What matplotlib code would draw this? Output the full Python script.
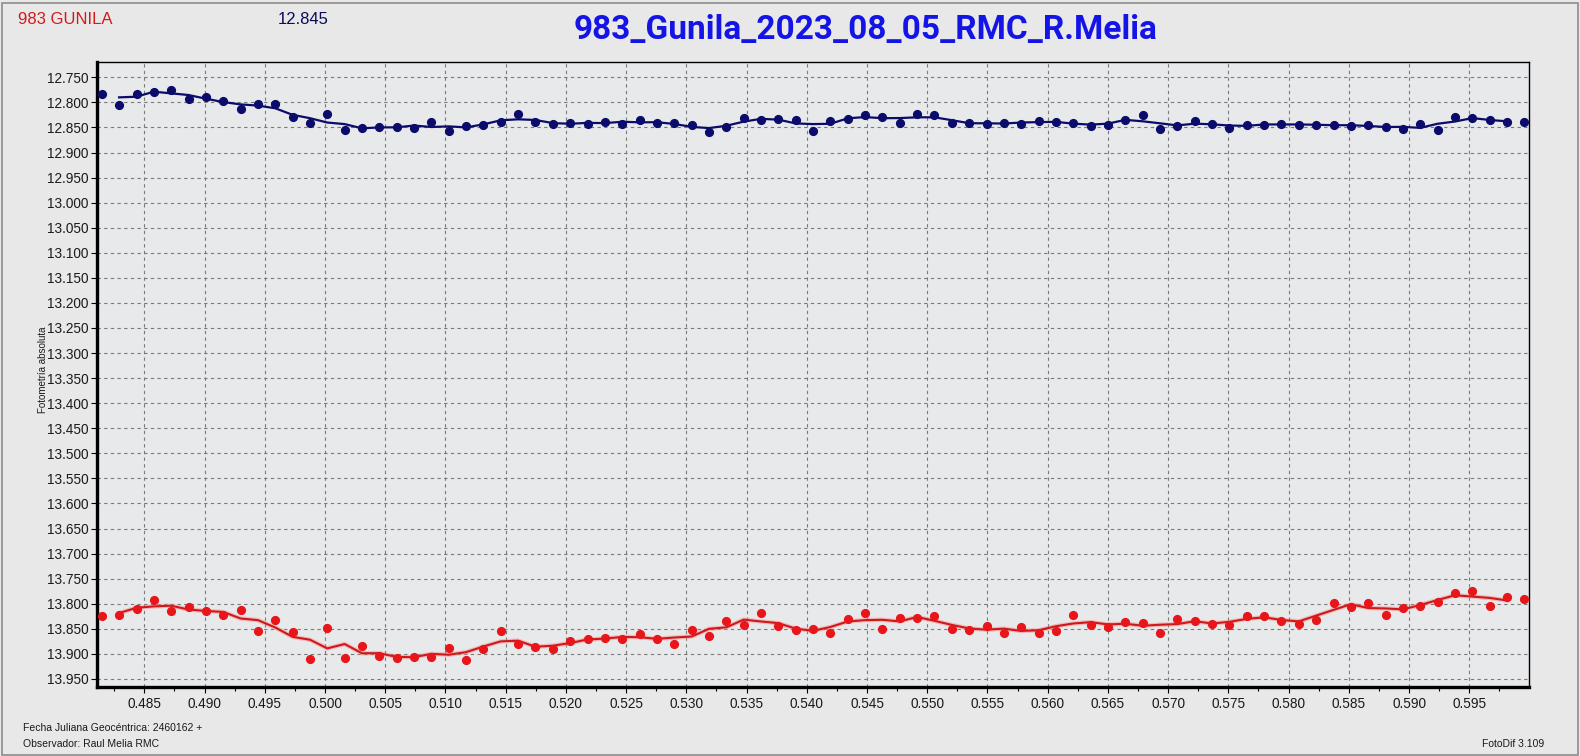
import numpy as np
import matplotlib
matplotlib.use("Agg")
import matplotlib.pyplot as plt
from matplotlib.ticker import MultipleLocator, FormatStrFormatter
from matplotlib.patches import Rectangle

# ---------------- data ----------------
jd_frac = [0.48146, 0.48290, 0.48435, 0.48579, 0.48723, 0.48867, 0.49011, 0.49155,
           0.49299, 0.49443, 0.49587, 0.49731, 0.49875, 0.50019, 0.50163, 0.50307,
           0.50451, 0.50595, 0.50739, 0.50883, 0.51027, 0.51171, 0.51315, 0.51459,
           0.51603, 0.51747, 0.51891, 0.52035, 0.52180, 0.52324, 0.52468, 0.52612,
           0.52756, 0.52900, 0.53044, 0.53188, 0.53332, 0.53476, 0.53620, 0.53764,
           0.53908, 0.54052, 0.54196, 0.54340, 0.54484, 0.54628, 0.54772, 0.54916,
           0.55060, 0.55204, 0.55348, 0.55492, 0.55636, 0.55780, 0.55924, 0.56068,
           0.56212, 0.56356, 0.56500, 0.56644, 0.56789, 0.56932, 0.57077, 0.57221,
           0.57365, 0.57509, 0.57653, 0.57797, 0.57941, 0.58085, 0.58229, 0.58373,
           0.58517, 0.58661, 0.58805, 0.58949, 0.59093, 0.59237, 0.59381, 0.59525,
           0.59670, 0.59813, 0.59958]

comp_mag = [12.7827, 12.8047, 12.7827, 12.7787, 12.7747, 12.7927, 12.7887, 12.7967,
            12.8127, 12.8027, 12.8040, 12.8287, 12.8420, 12.8240, 12.8547, 12.8513,
            12.8493, 12.8493, 12.8507, 12.8387, 12.8580, 12.8470, 12.8447, 12.8400,
            12.8227, 12.8387, 12.8440, 12.8413, 12.8427, 12.8387, 12.8427, 12.8347,
            12.8420, 12.8420, 12.8453, 12.8593, 12.8493, 12.8313, 12.8347, 12.8327,
            12.8360, 12.8573, 12.8367, 12.8340, 12.8247, 12.8293, 12.8407, 12.8240,
            12.8247, 12.8407, 12.8413, 12.8427, 12.8413, 12.8427, 12.8367, 12.8387,
            12.8413, 12.8473, 12.8447, 12.8353, 12.8247, 12.8533, 12.8473, 12.8373,
            12.8427, 12.8513, 12.8447, 12.8447, 12.8427, 12.8447, 12.8447, 12.8447,
            12.8473, 12.8447, 12.8493, 12.8533, 12.8440, 12.8553, 12.8287, 12.8307,
            12.8347, 12.8400, 12.8387]

ast_mag = [13.8235, 13.8220, 13.8100, 13.7920, 13.8136, 13.8060, 13.8150, 13.8220,
           13.8120, 13.8540, 13.8320, 13.8560, 13.9100, 13.8490, 13.9080, 13.8840,
           13.9040, 13.9080, 13.9060, 13.9056, 13.8880, 13.9115, 13.8900, 13.8540,
           13.8810, 13.8860, 13.8900, 13.8750, 13.8700, 13.8685, 13.8700, 13.8600,
           13.8700, 13.8800, 13.8520, 13.8640, 13.8340, 13.8430, 13.8180, 13.8450,
           13.8530, 13.8510, 13.8580, 13.8300, 13.8180, 13.8500, 13.8280, 13.8275,
           13.8235, 13.8510, 13.8520, 13.8450, 13.8580, 13.8460, 13.8585, 13.8540,
           13.8220, 13.8420, 13.8460, 13.8355, 13.8380, 13.8580, 13.8295, 13.8340,
           13.8410, 13.8430, 13.8240, 13.8235, 13.8335, 13.8400, 13.8320, 13.7990,
           13.8056, 13.7980, 13.8220, 13.8080, 13.8036, 13.7960, 13.7780, 13.7750,
           13.8040, 13.7860, 13.7900]

title_text = "983_Gunila_2023_08_05_RMC_R.Melia"
object_label = "983 GUNILA"
comp_label = "12.845"
ylabel_text = "Fotometría absoluta"
footer_lines = ["Fecha Juliana Geocéntrica: 2460162 +", "Observador: Raul Melia RMC"]
software_text = "FotoDif 3.109"

# ---------------- figure ----------------
W, H = 1580, 756
BG = "#e8e8e8"
fig = plt.figure(figsize=(W / 100, H / 100), dpi=100, facecolor=BG)
ax = fig.add_axes([97 / W, 1 - 687 / H, (1529 - 97) / W, (687 - 62) / H])
ax.set_facecolor("#e8e9eb")

x = np.array(jd_frac)
blue = np.array(comp_mag)
red = np.array(ast_mag)

def running_mean(v):
    return np.convolve(v, np.ones(3) / 3, mode="valid")

BLUE = "#0b0b6b"
RED = "#e8161b"

ax.plot(x[1:-1], running_mean(blue), color=BLUE, lw=1.6, zorder=3)
ax.plot(x, blue, "o", color=BLUE, ms=5.6, mec=BLUE, zorder=4)
ax.plot(x[1:-1], running_mean(red), color="#ff8080", lw=3.2, alpha=0.45, zorder=2)
ax.plot(x[1:-1], running_mean(red), color="#cc1a1a", lw=1.5, zorder=3)
ax.plot(x, red, "o", color=RED, ms=5.6, mec=RED, zorder=4)

ax.set_xlim(0.48107, 0.59996)
ax.set_ylim(13.966, 12.7195)

ax.xaxis.set_major_locator(MultipleLocator(0.005))
ax.xaxis.set_minor_locator(MultipleLocator(0.0025))
ax.yaxis.set_major_locator(MultipleLocator(0.05))
ax.xaxis.set_major_formatter(FormatStrFormatter("%.3f"))
ax.yaxis.set_major_formatter(FormatStrFormatter("%.3f"))

ax.grid(True, which="major", color="#7a7a7a", lw=0.8, ls=(0, (3, 3)))
ax.tick_params(axis="both", which="major", direction="out", length=4, width=0.8,
               labelsize=9.8, labelcolor="#1a1a1a", pad=2)
ax.tick_params(axis="x", which="minor", direction="out", length=3, width=0.8)
ax.tick_params(axis="x", pad=3.5)
for lab in ax.get_xticklabels() + ax.get_yticklabels():
    lab.set_family("Liberation Sans")

for side, lw in (("left", 2.4), ("bottom", 2.4), ("top", 1.0), ("right", 1.0)):
    ax.spines[side].set_color("black")
    ax.spines[side].set_linewidth(lw)

# ---------------- texts ----------------
fig.text(18 / W, 1 - 19 / H, object_label, color="#d21a1a", fontsize=12,
         family="Liberation Sans", ha="left", va="center")
fig.text(303 / W, 1 - 19 / H, comp_label, color="#0b0b5b", fontsize=12,
         family="Liberation Sans", ha="center", va="center")
fig.text(866 / W, 1 - 30 / H, title_text, color="#1414e6", fontsize=24,
         family="Roboto", weight="bold", ha="center", va="center")
fig.text(43 / W, 1 - 370 / H, ylabel_text, rotation=90, fontsize=7,
         family="Liberation Sans", color="#1a1a1a", ha="center", va="center")
fig.text(23 / W, 1 - 728 / H, footer_lines[0], fontsize=7.5,
         family="Liberation Sans", color="#1a1a1a", ha="left", va="center")
fig.text(23 / W, 1 - 744 / H, footer_lines[1], fontsize=7.5,
         family="Liberation Sans", color="#1a1a1a", ha="left", va="center")
fig.text(1544 / W, 1 - 744 / H, software_text, fontsize=7.5,
         family="Liberation Sans", color="#1a1a1a", ha="right", va="center")

fig.patches.append(Rectangle((1.5 / W, 1.5 / H), 1 - 4 / W, 1 - 4 / H,
                             transform=fig.transFigure, fill=False,
                             edgecolor="#8c8c8c", lw=1.2))

fig.savefig("out.png", dpi=100, facecolor=BG)
